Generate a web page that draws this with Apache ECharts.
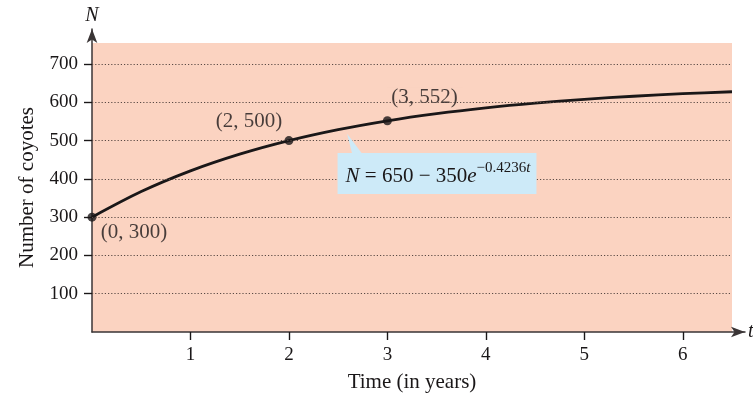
<!DOCTYPE html>
<html>
<head>
<meta charset="utf-8">
<script src="https://cdn.jsdelivr.net/npm/echarts@6/dist/echarts.min.js"></script>
<style>html,body{margin:0;padding:0;background:#fff}#c{width:753px;height:394px}</style>
</head>
<body>
<div id="c"></div>
<script>
// ---- data ----
var tValues = [0, 0.5, 1, 1.5, 2, 2.5, 3, 3.5, 4, 4.5, 5, 5.5, 6, 6.5];
var nValues = [300, 366.8, 420.9, 464.6, 500, 528.6, 551.8, 570.5, 585.7, 598, 607.9, 615.9, 622.5, 627.7];
var pointT = [0, 2, 3];
var pointN = [300, 500, 552];
var pointLabels = ['(0, 300)', '(2, 500)', '(3, 552)'];
var xTicks = [1, 2, 3, 4, 5, 6];
var yTicks = [100, 200, 300, 400, 500, 600, 700];
var formulaText = '{it|N}{n| = 650 − 350}{it|e}{sup|−0.4236}{supi|t}';

var FONT = 'Liberation Serif';
var INK = '#1a1718';
var FILL = '#fbd3c1';
var BLUE = '#cdeaf8';

var curve = tValues.map(function (t, i) { return [t, nValues[i]]; });
var labelOffsets = [[42, 15], [-40, -19], [37, -23]];
var pts = pointT.map(function (t, i) {
  return {
    value: [t, pointN[i]],
    label: {
      show: true, formatter: pointLabels[i], position: 'inside',
      offset: labelOffsets[i], fontFamily: FONT, fontSize: 21, color: INK,
      textBorderWidth: 0, textShadowBlur: 0,
      backgroundColor: i === 2 ? FILL : 'transparent', padding: [0, 5]
    }
  };
});

var chart = echarts.init(document.getElementById('c'), null, {renderer: 'canvas'});
var axisTxt = {fontFamily: FONT, fontSize: 21, color: INK};
chart.setOption({
  animation: false,
  grid: [
    {left: 92, right: 21, top: 43, bottom: 62, show: true, backgroundColor: FILL, borderWidth: 0,
     containLabel: false, outerBoundsMode: 'none'},
    {left: 92, right: 8, top: 29, bottom: 62, containLabel: false, outerBoundsMode: 'none'}
  ],
  xAxis: [
    {type: 'value', gridIndex: 0, min: 0, max: 6.5,
     axisLine: {show: false}, splitLine: {show: false},
     axisTick: {show: true, inside: false, length: 8, customValues: xTicks, lineStyle: {color: INK, width: 1.2}},
     axisLabel: {customValues: xTicks, margin: 14, fontFamily: FONT, fontSize: 19, color: INK},
     name: 'Time (in years)', nameLocation: 'middle', nameGap: 40, nameTextStyle: axisTxt},
    {type: 'value', gridIndex: 0, min: 0, max: 6.5,
     axisLine: {show: false}, splitLine: {show: false}, axisLabel: {show: false},
     axisTick: {show: true, inside: true, length: 8, customValues: xTicks, lineStyle: {color: INK, width: 1.2}}},
    {type: 'value', gridIndex: 1, min: 0, max: 10,
     axisLine: {show: true, symbol: ['none', 'arrow'], symbolSize: [8, 14], lineStyle: {color: '#3a3536', width: 1.5}},
     axisTick: {show: false}, axisLabel: {show: false}, splitLine: {show: false},
     name: 't', nameLocation: 'end', nameGap: 3,
     nameTextStyle: {fontFamily: FONT, fontSize: 20, fontStyle: 'italic', color: INK, verticalAlign: 'middle'}}
  ],
  yAxis: [
    {type: 'value', gridIndex: 0, min: 0, max: 755,
     axisLine: {show: false}, splitLine: {show: false},
     axisTick: {show: true, inside: false, length: 8, customValues: yTicks, lineStyle: {color: INK, width: 1.2}},
     axisLabel: {customValues: yTicks, margin: 14, fontFamily: FONT, fontSize: 19, color: INK},
     name: 'Number of coyotes', nameLocation: 'middle', nameGap: 54, nameTextStyle: axisTxt},
    {type: 'value', gridIndex: 0, min: 0, max: 755,
     axisLine: {show: false}, splitLine: {show: false}, axisLabel: {show: false},
     axisTick: {show: true, inside: true, length: 8, customValues: yTicks, lineStyle: {color: INK, width: 1.2}}},
    {type: 'value', gridIndex: 1, min: 0, max: 10,
     axisLine: {show: true, symbol: ['none', 'arrow'], symbolSize: [8, 14], lineStyle: {color: '#3a3536', width: 1.5}},
     axisTick: {show: false}, axisLabel: {show: false}, splitLine: {show: false},
     name: 'N', nameLocation: 'end', nameGap: 3,
     nameTextStyle: {fontFamily: FONT, fontSize: 20, fontStyle: 'italic', color: INK}}
  ],
  series: [
    {type: 'line', xAxisIndex: 0, yAxisIndex: 0, data: [], z: 1, silent: true,
     markLine: {silent: true, symbol: ['none', 'none'], label: {show: false},
       lineStyle: {type: [1.2, 2], color: '#5a4a45', width: 1},
       data: yTicks.map(function (v) { return {yAxis: v}; })}},
    {type: 'line', xAxisIndex: 0, yAxisIndex: 0, data: curve, smooth: 0.3,
     showSymbol: false, lineStyle: {color: INK, width: 2.8}, z: 3,
     markPoint: {
       silent: true,
       data: [
         {coord: [2.667, 492], symbol: 'path://M0,0 L5,20 L15,20 Z', symbolSize: [15, 20],
          itemStyle: {color: BLUE}, label: {show: false}},
         {coord: [3.504, 414], symbol: 'circle', symbolSize: 1, itemStyle: {color: 'rgba(0,0,0,0)'},
          label: {show: true, position: 'inside', formatter: formulaText,
            backgroundColor: BLUE, padding: [8, 6, 3, 8],
            rich: {
              it: {fontFamily: FONT, fontSize: 21, fontStyle: 'italic', lineHeight: 30, color: INK},
              n: {fontFamily: FONT, fontSize: 21, lineHeight: 30, color: INK},
              sup: {fontFamily: FONT, fontSize: 15, lineHeight: 12, verticalAlign: 'top', color: INK},
              supi: {fontFamily: FONT, fontSize: 15, fontStyle: 'italic', lineHeight: 12, verticalAlign: 'top', color: INK}
            }}}
       ]
     }},
    {type: 'scatter', xAxisIndex: 0, yAxisIndex: 0, data: pts, symbolSize: 9,
     itemStyle: {color: INK}, z: 4}
  ]
});
</script>
</body>
</html>
